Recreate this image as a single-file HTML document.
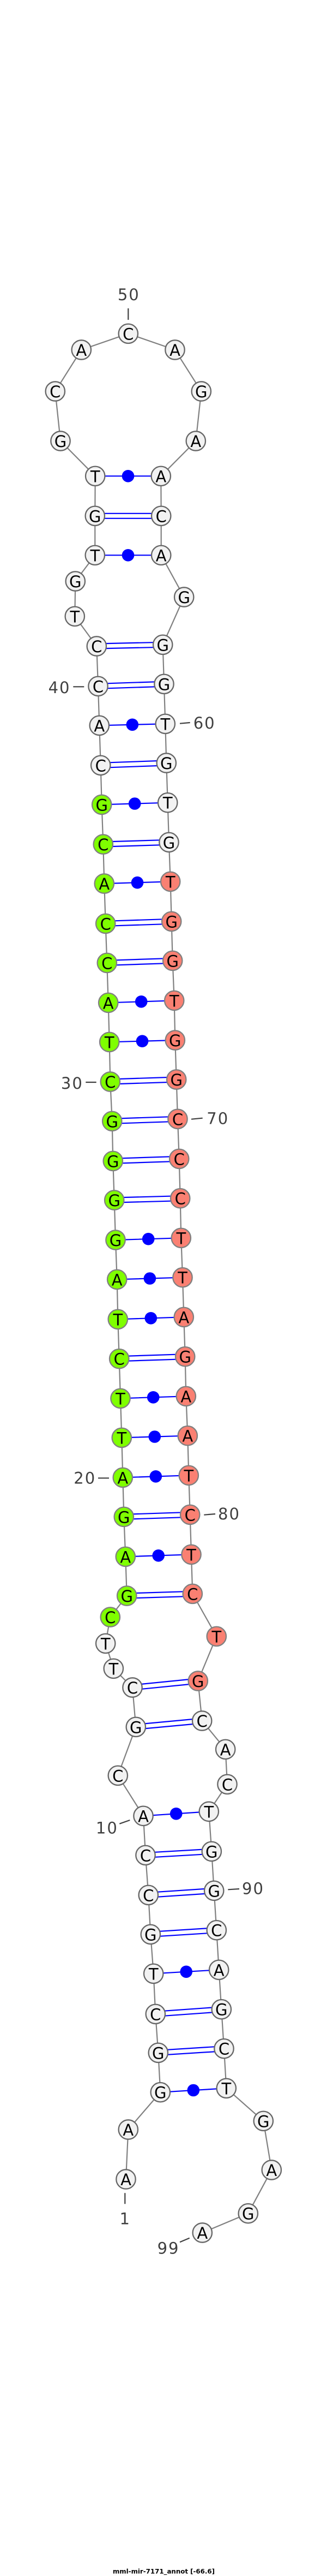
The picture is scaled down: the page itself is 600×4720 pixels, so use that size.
<!DOCTYPE html>
<html>
<head>
<meta charset="utf-8">
<title>mml-mir-7171_annot</title>
<style>
html,body{margin:0;padding:0;background:#fff;width:600px;height:4720px;overflow:hidden}
svg{display:block}
text{font-family:"DejaVu Sans","Liberation Sans",sans-serif}
.bp{fill:none;stroke:#0000ff;stroke-width:2.2}
.b2{fill:none;stroke:#0000ff;stroke-width:11.2}
.w2{fill:none;stroke:#ffffff;stroke-width:6.8}
.bb{fill:none;stroke:#808080;stroke-width:2.2}
.tk{fill:none;stroke:#404040;stroke-width:2.2}
.d circle{fill:#0000ff;r:11.3px}
.n circle{r:17.7px;stroke-width:2.3}
.w circle{fill:#f2f2f2;stroke:#666666}
.g circle{fill:#7fff00;stroke:#808080}
.s circle{fill:#fa8072;stroke:#808080}
.n text{font-size:29px;text-anchor:middle;fill:#000}
.lb text{font-size:29px;fill:#404040;letter-spacing:2px}
</style>
</head>
<body>
<svg xmlns="http://www.w3.org/2000/svg" width="600" height="4720" viewBox="0 0 600 4720">
<rect width="600" height="4720" fill="#ffffff"/>
<path class="bb" d="M231 3993L235.3 3902L294.3 3833.7L290.3 3761.3L285.3 3690.3L281.7 3616.3L276.3 3544.3L272.3 3472.3L267 3399.3L263 3327.3L216.3 3253.3L249.3 3164.3L243 3092L208.3 3057.3L193.7 3011.3L202.3 2963L232.7 2924L230.3 2852.3L227.3 2779.3L225.3 2707.3L223.3 2634.3L221 2562.3L218.7 2489.7L216.3 2417.3L214.7 2344.3L212 2272L209.7 2199L207.3 2127.3L205.7 2054.3L202.3 1982L200.7 1909.3L198.7 1837.3L196.3 1764.3L193.7 1692.3L191.3 1619L189.3 1547L186.7 1474.3L184.7 1402.3L182.3 1329.3L180 1257.3L177.3 1184L137.3 1129.3L138.3 1065L174.3 1017.3L174.3 945.3L174.7 872.3L111 808L101.3 717L149.3 641L235.3 611.3L321 641L369.3 717L359.3 808L295.3 872.3L295.7 945.3L295.7 1017.3L337.7 1094L298.7 1181.3L301 1253.3L303.3 1326.3L305.3 1398L307.7 1470.7L310 1543.3L312.7 1615.3L314.7 1688.3L316.7 1760.3L319.7 1833.3L321.3 1906L323.7 1978L326 2050.3L328.7 2123.3L330.7 2195.7L332.3 2268.3L335 2340.7L337.3 2413.3L339.7 2485.7L341.3 2558.3L344.3 2630.7L346.3 2703.3L348.7 2775.3L351 2848.3L353.3 2920.3L397.3 2998.3L363.3 3080L370.7 3153L413.7 3205.3L417 3269.3L383.3 3319.3L388.3 3392.3L392.7 3464.3L397.3 3536.7L401.7 3609.3L406.3 3681.7L411 3753.7L415.3 3826.3L483.3 3886.3L498.3 3976L455.3 4055.7L371.3 4091"/>
<path class="bp" d="M294.3 3833.7L415.3 3826.3M281.7 3616.3L401.7 3609.3M263 3327.3L383.3 3319.3M230.3 2852.3L351 2848.3M225.3 2707.3L346.3 2703.3M223.3 2634.3L344.3 2630.7M221 2562.3L341.3 2558.3M216.3 2417.3L337.3 2413.3M214.7 2344.3L335 2340.7M212 2272L332.3 2268.3M200.7 1909.3L321.3 1906M198.7 1837.3L319.7 1833.3M191.3 1619L312.7 1615.3M186.7 1474.3L307.7 1470.7M182.3 1329.3L303.3 1326.3M174.3 1017.3L295.7 1017.3M174.7 872.3L295.3 872.3"/>
<path class="b2" d="M290.3 3761.3L411 3753.7M285.3 3690.3L406.3 3681.7M276.3 3544.3L397.3 3536.7M272.3 3472.3L392.7 3464.3M267 3399.3L388.3 3392.3M249.3 3164.3L370.7 3153M243 3092L363.3 3080M232.7 2924L353.3 2920.3M227.3 2779.3L348.7 2775.3M218.7 2489.7L339.7 2485.7M209.7 2199L330.7 2195.7M207.3 2127.3L328.7 2123.3M205.7 2054.3L326 2050.3M202.3 1982L323.7 1978M196.3 1764.3L316.7 1760.3M193.7 1692.3L314.7 1688.3M189.3 1547L310 1543.3M184.7 1402.3L305.3 1398M180 1257.3L301 1253.3M177.3 1184L298.7 1181.3M174.3 945.3L295.7 945.3"/>
<path class="w2" d="M290.3 3761.3L411 3753.7M285.3 3690.3L406.3 3681.7M276.3 3544.3L397.3 3536.7M272.3 3472.3L392.7 3464.3M267 3399.3L388.3 3392.3M249.3 3164.3L370.7 3153M243 3092L363.3 3080M232.7 2924L353.3 2920.3M227.3 2779.3L348.7 2775.3M218.7 2489.7L339.7 2485.7M209.7 2199L330.7 2195.7M207.3 2127.3L328.7 2123.3M205.7 2054.3L326 2050.3M202.3 1982L323.7 1978M196.3 1764.3L316.7 1760.3M193.7 1692.3L314.7 1688.3M189.3 1547L310 1543.3M184.7 1402.3L305.3 1398M180 1257.3L301 1253.3M177.3 1184L298.7 1181.3M174.3 945.3L295.7 945.3"/>
<g class="d">
<circle cx="354.8" cy="3830"/><circle cx="341.7" cy="3612.8"/><circle cx="323.2" cy="3323.3"/><circle cx="290.7" cy="2850.3"/><circle cx="285.8" cy="2705.3"/><circle cx="283.8" cy="2632.5"/><circle cx="281.2" cy="2560.3"/><circle cx="276.8" cy="2415.3"/><circle cx="274.9" cy="2342.5"/><circle cx="272.2" cy="2270.2"/><circle cx="261" cy="1907.7"/><circle cx="259.2" cy="1835.3"/><circle cx="252" cy="1617.2"/><circle cx="247.2" cy="1472.5"/><circle cx="242.8" cy="1327.8"/><circle cx="235" cy="1017.3"/><circle cx="235" cy="872.3"/>
</g>
<g class="n w">
<circle cx="231" cy="3993"/><text x="231" y="4004">A</text>
<circle cx="235.3" cy="3902"/><text x="235.3" y="3913">A</text>
<circle cx="294.3" cy="3833.7"/><text x="294.3" y="3844.7">G</text>
<circle cx="290.3" cy="3761.3"/><text x="290.3" y="3772.3">G</text>
<circle cx="285.3" cy="3690.3"/><text x="285.3" y="3701.3">C</text>
<circle cx="281.7" cy="3616.3"/><text x="281.7" y="3627.3">T</text>
<circle cx="276.3" cy="3544.3"/><text x="276.3" y="3555.3">G</text>
<circle cx="272.3" cy="3472.3"/><text x="272.3" y="3483.3">C</text>
<circle cx="267" cy="3399.3"/><text x="267" y="3410.3">C</text>
<circle cx="263" cy="3327.3"/><text x="263" y="3338.3">A</text>
<circle cx="216.3" cy="3253.3"/><text x="216.3" y="3264.3">C</text>
<circle cx="249.3" cy="3164.3"/><text x="249.3" y="3175.3">G</text>
<circle cx="243" cy="3092"/><text x="243" y="3103">C</text>
<circle cx="208.3" cy="3057.3"/><text x="208.3" y="3068.3">T</text>
<circle cx="193.7" cy="3011.3"/><text x="193.7" y="3022.3">T</text>
<circle cx="184.7" cy="1402.3"/><text x="184.7" y="1413.3">C</text>
<circle cx="182.3" cy="1329.3"/><text x="182.3" y="1340.3">A</text>
<circle cx="180" cy="1257.3"/><text x="180" y="1268.3">C</text>
<circle cx="177.3" cy="1184"/><text x="177.3" y="1195">C</text>
<circle cx="137.3" cy="1129.3"/><text x="137.3" y="1140.3">T</text>
<circle cx="138.3" cy="1065"/><text x="138.3" y="1076">G</text>
<circle cx="174.3" cy="1017.3"/><text x="174.3" y="1028.3">T</text>
<circle cx="174.3" cy="945.3"/><text x="174.3" y="956.3">G</text>
<circle cx="174.7" cy="872.3"/><text x="174.7" y="883.3">T</text>
<circle cx="111" cy="808"/><text x="111" y="819">G</text>
<circle cx="101.3" cy="717"/><text x="101.3" y="728">C</text>
<circle cx="149.3" cy="641"/><text x="149.3" y="652">A</text>
<circle cx="235.3" cy="611.3"/><text x="235.3" y="622.3">C</text>
<circle cx="321" cy="641"/><text x="321" y="652">A</text>
<circle cx="369.3" cy="717"/><text x="369.3" y="728">G</text>
<circle cx="359.3" cy="808"/><text x="359.3" y="819">A</text>
<circle cx="295.3" cy="872.3"/><text x="295.3" y="883.3">A</text>
<circle cx="295.7" cy="945.3"/><text x="295.7" y="956.3">C</text>
<circle cx="295.7" cy="1017.3"/><text x="295.7" y="1028.3">A</text>
<circle cx="337.7" cy="1094"/><text x="337.7" y="1105">G</text>
<circle cx="298.7" cy="1181.3"/><text x="298.7" y="1192.3">G</text>
<circle cx="301" cy="1253.3"/><text x="301" y="1264.3">G</text>
<circle cx="303.3" cy="1326.3"/><text x="303.3" y="1337.3">T</text>
<circle cx="305.3" cy="1398"/><text x="305.3" y="1409">G</text>
<circle cx="307.7" cy="1470.7"/><text x="307.7" y="1481.7">T</text>
<circle cx="310" cy="1543.3"/><text x="310" y="1554.3">G</text>
<circle cx="370.7" cy="3153"/><text x="370.7" y="3164">C</text>
<circle cx="413.7" cy="3205.3"/><text x="413.7" y="3216.3">A</text>
<circle cx="417" cy="3269.3"/><text x="417" y="3280.3">C</text>
<circle cx="383.3" cy="3319.3"/><text x="383.3" y="3330.3">T</text>
<circle cx="388.3" cy="3392.3"/><text x="388.3" y="3403.3">G</text>
<circle cx="392.7" cy="3464.3"/><text x="392.7" y="3475.3">G</text>
<circle cx="397.3" cy="3536.7"/><text x="397.3" y="3547.7">C</text>
<circle cx="401.7" cy="3609.3"/><text x="401.7" y="3620.3">A</text>
<circle cx="406.3" cy="3681.7"/><text x="406.3" y="3692.7">G</text>
<circle cx="411" cy="3753.7"/><text x="411" y="3764.7">C</text>
<circle cx="415.3" cy="3826.3"/><text x="415.3" y="3837.3">T</text>
<circle cx="483.3" cy="3886.3"/><text x="483.3" y="3897.3">G</text>
<circle cx="498.3" cy="3976"/><text x="498.3" y="3987">A</text>
<circle cx="455.3" cy="4055.7"/><text x="455.3" y="4066.7">G</text>
<circle cx="371.3" cy="4091"/><text x="371.3" y="4102">A</text>
</g>
<g class="n g">
<circle cx="202.3" cy="2963"/><text x="202.3" y="2974">C</text>
<circle cx="232.7" cy="2924"/><text x="232.7" y="2935">G</text>
<circle cx="230.3" cy="2852.3"/><text x="230.3" y="2863.3">A</text>
<circle cx="227.3" cy="2779.3"/><text x="227.3" y="2790.3">G</text>
<circle cx="225.3" cy="2707.3"/><text x="225.3" y="2718.3">A</text>
<circle cx="223.3" cy="2634.3"/><text x="223.3" y="2645.3">T</text>
<circle cx="221" cy="2562.3"/><text x="221" y="2573.3">T</text>
<circle cx="218.7" cy="2489.7"/><text x="218.7" y="2500.7">C</text>
<circle cx="216.3" cy="2417.3"/><text x="216.3" y="2428.3">T</text>
<circle cx="214.7" cy="2344.3"/><text x="214.7" y="2355.3">A</text>
<circle cx="212" cy="2272"/><text x="212" y="2283">G</text>
<circle cx="209.7" cy="2199"/><text x="209.7" y="2210">G</text>
<circle cx="207.3" cy="2127.3"/><text x="207.3" y="2138.3">G</text>
<circle cx="205.7" cy="2054.3"/><text x="205.7" y="2065.3">G</text>
<circle cx="202.3" cy="1982"/><text x="202.3" y="1993">C</text>
<circle cx="200.7" cy="1909.3"/><text x="200.7" y="1920.3">T</text>
<circle cx="198.7" cy="1837.3"/><text x="198.7" y="1848.3">A</text>
<circle cx="196.3" cy="1764.3"/><text x="196.3" y="1775.3">C</text>
<circle cx="193.7" cy="1692.3"/><text x="193.7" y="1703.3">C</text>
<circle cx="191.3" cy="1619"/><text x="191.3" y="1630">A</text>
<circle cx="189.3" cy="1547"/><text x="189.3" y="1558">C</text>
<circle cx="186.7" cy="1474.3"/><text x="186.7" y="1485.3">G</text>
</g>
<g class="n s">
<circle cx="312.7" cy="1615.3"/><text x="312.7" y="1626.3">T</text>
<circle cx="314.7" cy="1688.3"/><text x="314.7" y="1699.3">G</text>
<circle cx="316.7" cy="1760.3"/><text x="316.7" y="1771.3">G</text>
<circle cx="319.7" cy="1833.3"/><text x="319.7" y="1844.3">T</text>
<circle cx="321.3" cy="1906"/><text x="321.3" y="1917">G</text>
<circle cx="323.7" cy="1978"/><text x="323.7" y="1989">G</text>
<circle cx="326" cy="2050.3"/><text x="326" y="2061.3">C</text>
<circle cx="328.7" cy="2123.3"/><text x="328.7" y="2134.3">C</text>
<circle cx="330.7" cy="2195.7"/><text x="330.7" y="2206.7">C</text>
<circle cx="332.3" cy="2268.3"/><text x="332.3" y="2279.3">T</text>
<circle cx="335" cy="2340.7"/><text x="335" y="2351.7">T</text>
<circle cx="337.3" cy="2413.3"/><text x="337.3" y="2424.3">A</text>
<circle cx="339.7" cy="2485.7"/><text x="339.7" y="2496.7">G</text>
<circle cx="341.3" cy="2558.3"/><text x="341.3" y="2569.3">A</text>
<circle cx="344.3" cy="2630.7"/><text x="344.3" y="2641.7">A</text>
<circle cx="346.3" cy="2703.3"/><text x="346.3" y="2714.3">T</text>
<circle cx="348.7" cy="2775.3"/><text x="348.7" y="2786.3">C</text>
<circle cx="351" cy="2848.3"/><text x="351" y="2859.3">T</text>
<circle cx="353.3" cy="2920.3"/><text x="353.3" y="2931.3">C</text>
<circle cx="397.3" cy="2998.3"/><text x="397.3" y="3009.3">T</text>
<circle cx="363.3" cy="3080"/><text x="363.3" y="3091">G</text>
</g>
<path class="tk" d="M235.3 565V586M134.3 1258.3H154.3M330 1325.7L348.7 1324M157.3 1983H176.7M351 2050.7L371.7 2048.7M180 2708.3H200M374.3 2775.7L395 2774M219.3 3341.7L238.3 3335M418.3 3462.3L439 3461M229.3 4018.3V4038.3M330 4108.3L347.7 4100.7"/>
<g class="lb">
<text x="236.3" y="550" text-anchor="middle">50</text>
<text x="129.5" y="1270" text-anchor="end">40</text>
<text x="354.7" y="1335">60</text>
<text x="152.8" y="1995" text-anchor="end">30</text>
<text x="379.3" y="2059.3">70</text>
<text x="176.2" y="2718.7" text-anchor="end">20</text>
<text x="400" y="2784">80</text>
<text x="216.8" y="3359.3" text-anchor="end">10</text>
<text x="444" y="3470.7">90</text>
<text x="229.7" y="4075.7" text-anchor="middle">1</text>
<text x="329.5" y="4129.3" text-anchor="end">99</text>
</g>
<text x="300.5" y="4715.7" text-anchor="middle" font-size="11.5" font-weight="bold" fill="#000" textLength="187" lengthAdjust="spacingAndGlyphs">mml-mir-7171_annot [-66.6]</text>
</svg>
</body>
</html>
